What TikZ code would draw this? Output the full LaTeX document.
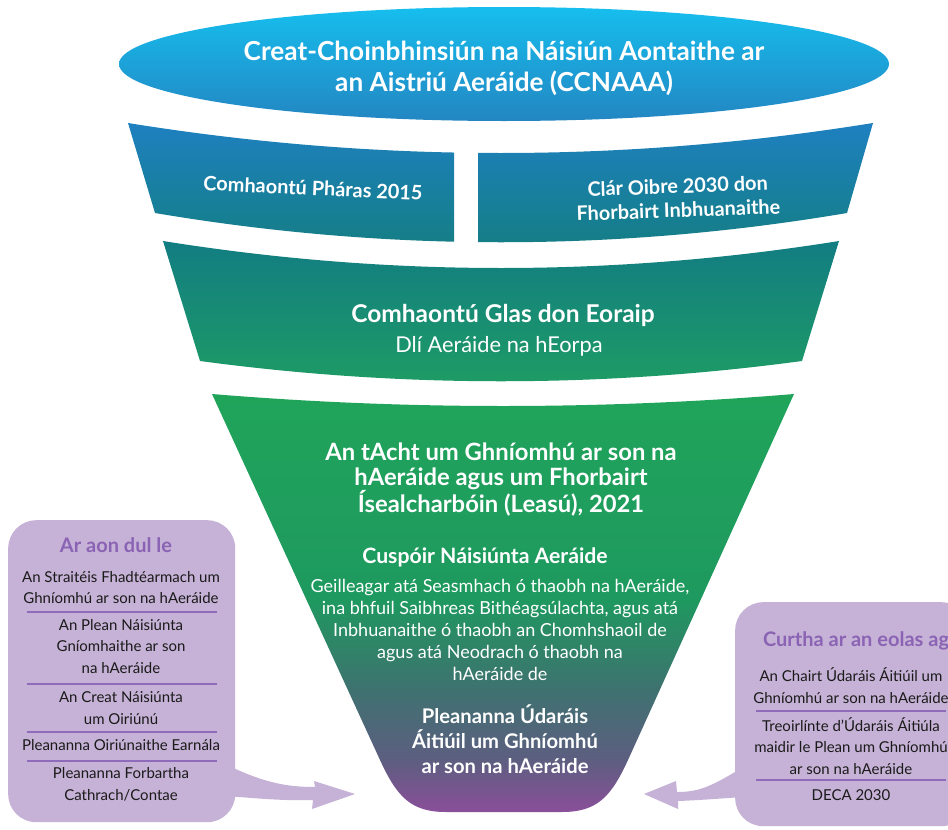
\documentclass[tikz,border=0pt]{standalone}
\usepackage{fontspec}
\setmainfont{Lato}
\definecolor{ellTop}{HTML}{16BEEE}
\definecolor{ellBot}{HTML}{2386C2}
\definecolor{tTwoTop}{HTML}{1E80C0}
\definecolor{tTwoMid}{HTML}{0F69A8}
\definecolor{tTwoBot}{HTML}{147E82}
\definecolor{tThrTop}{HTML}{127D82}
\definecolor{tThrBot}{HTML}{1E9C64}
\definecolor{tfA}{HTML}{20A45A}
\definecolor{tfB}{HTML}{1E995F}
\definecolor{tfC}{HTML}{3F7170}
\definecolor{tfD}{HTML}{5D5E80}
\definecolor{tfE}{HTML}{8A4F9A}
\definecolor{boxc}{HTML}{C6B2D6}
\definecolor{titlec}{HTML}{8A63B4}
\definecolor{sepc}{HTML}{8E6CBB}
\definecolor{inkc}{HTML}{1A1A1A}
\pgfdeclareverticalshading{tierfour}{100bp}{color(0bp)=(tfE); color(25bp)=(tfE); color(31.2bp)=(tfD); color(39.5bp)=(tfC); color(50.5bp)=(tfB); color(75bp)=(tfA); color(100bp)=(tfA)}
\tikzset{
  wtext/.style={text=white, align=center, inner sep=0pt},
  ktext/.style={text=inkc, align=center, inner sep=0pt, font=\fontsize{15}{21.7}\selectfont},
  boxtitle/.style={text=titlec, inner sep=0pt, font=\bfseries\fontsize{20}{22}\selectfont},
  sidebox/.style={fill=boxc, rounded corners=28pt, inner sep=0pt, anchor=north west},
  sepline/.style={draw=sepc, line width=1.4pt},
  arrowc/.style={fill=boxc}
}
\begin{document}
\begin{tikzpicture}[x=1pt,y=-1pt]
\useasboundingbox (0,0) rectangle (948,830);
\clip (0,0) rectangle (948,830);

% top ellipse
\path[top color=ellTop, bottom color=ellBot] (504,64) ellipse [x radius=385, y radius=57];
\node (ccnaaa) [wtext, font=\bfseries\fontsize{26.2}{31}\selectfont] at (504,68)
  {Creat-Choinbhinsiún na Náisiún Aontaithe ar\\an Aistriú Aeráide (CCNAAA)};

% tier 2 (two pieces)
\begin{scope}
\clip (0,100) rectangle (454,260);
\path[top color=tTwoTop, middle color=tTwoMid, bottom color=tTwoBot]
  (128,123) .. controls (376,163) and (625,163) .. (873,123)
  -- (847,213) .. controls (616,252) and (386,252) .. (155,213) -- cycle;
\end{scope}
\begin{scope}
\clip (478,100) rectangle (948,260);
\path[top color=tTwoTop, middle color=tTwoMid, bottom color=tTwoBot]
  (128,123) .. controls (376,163) and (625,163) .. (873,123)
  -- (847,213) .. controls (616,252) and (386,252) .. (155,213) -- cycle;
\end{scope}
\node (paris) [wtext, rotate=-2.6, font=\bfseries\fontsize{19.9}{22}\selectfont] at (313,188)
  {Comhaontú Pháras 2015};
\node (agenda) [wtext, rotate=2, font=\bfseries\fontsize{19.9}{24}\selectfont] at (678,198)
  {Clár Oibre 2030 don\\Fhorbairt Inbhuanaithe};

% tier 3
\path[top color=tThrTop, bottom color=tThrBot]
  (163,241) .. controls (388,277) and (614,277) .. (839,241)
  -- (802,361) .. controls (601,388) and (401,388) .. (200,361) -- cycle;
\node (gdeal) [wtext, font=\bfseries\fontsize{24.5}{28}\selectfont] at (503,315)
  {Comhaontú Glas don Eoraip};
\node (eulaw) [wtext, font=\fontsize{21.8}{25}\selectfont] at (499,346)
  {Dlí Aeráide na hEorpa};

% tier 4
\path[shading=tierfour]
  (212,394) .. controls (405,410) and (601,410) .. (794,394)
  -- (628,760) .. controls (611,797) and (597,812) .. (562,812)
  -- (446,812) .. controls (411,812) and (397,797) .. (380,760) -- cycle;
\node (acht) [wtext, font=\bfseries\fontsize{23.8}{24.5}\selectfont] at (501,480)
  {An tAcht um Ghníomhú ar son na\\hAeráide agus um Fhorbairt\\Ísealcharbóin (Leasú), 2021};
\node (cuspoir) [wtext, font=\bfseries\fontsize{21.2}{24}\selectfont] at (485,557)
  {Cuspóir Náisiúnta Aeráide};
\node (para) [wtext, font=\fontsize{18}{21.8}\selectfont] at (500,630)
  {Geilleagar atá Seasmhach ó thaobh na hAeráide,\\ina bhfuil Saibhreas Bithéagsúlachta, agus atá\\Inbhuanaithe ó thaobh an Chomhshaoil de\\agus atá Neodrach ó thaobh na\\hAeráide de};
\node (lacap) [wtext, font=\bfseries\fontsize{20.2}{25}\selectfont] at (505,739)
  {Pleananna Údaráis\\Áitiúil um Ghníomhú\\ar son na hAeráide};

% arrows
\fill[arrowc] (225,764) .. controls (262,782) and (285,787) .. (315,787)
  -- (314,781) -- (355,794) -- (312,809) -- (313,800)
  .. controls (280,801) and (255,798) .. (225,796) -- cycle;
\fill[arrowc] (745,766) .. controls (712,786) and (700,792) .. (677,792)
  -- (676,781) -- (644,794) -- (678,809) -- (678,801)
  .. controls (705,800) and (725,798) .. (745,797) -- cycle;

% left box
\node (leftbox) [sidebox, minimum width=227pt, minimum height=302pt] at (8,520) {};
\node (ltitle) [boxtitle] at (116,545) {Ar aon dul le};
\node (l1) [ktext] at (121,587.5) {An Straitéis Fhadtéarmach um\\Ghníomhú ar son na hAeráide};
\node (l2) [ktext] at (121,646.5) {An Plean Náisiúnta\\Gníomhaithe ar son\\na hAeráide};
\node (l3) [ktext] at (121,708) {An Creat Náisiúnta\\um Oiriúnú};
\node (l4) [ktext] at (121,745) {Pleananna Oiriúnaithe Earnála};
\node (l5) [ktext] at (121,784) {Pleananna Forbartha\\Cathrach/Contae};
\coordinate (ls1a) at (27,612); \coordinate (ls1b) at (217,612);
\coordinate (ls2a) at (27,684); \coordinate (ls2b) at (217,684);
\coordinate (ls3a) at (27,732); \coordinate (ls3b) at (217,732);
\coordinate (ls4a) at (27,761); \coordinate (ls4b) at (217,761);
\draw[sepline] (ls1a) -- (ls1b);
\draw[sepline] (ls2a) -- (ls2b);
\draw[sepline] (ls3a) -- (ls3b);
\draw[sepline] (ls4a) -- (ls4b);

% right box
\node (rightbox) [sidebox, minimum width=234pt, minimum height=224pt] at (735,602) {};
\node (rtitle) [boxtitle] at (856,641) {Curtha ar an eolas ag};
\node (r1) [ktext] at (851,685.5) {An Chairt Údaráis Áitiúil um\\Ghníomhú ar son na hAeráide};
\node (r2) [ktext] at (851,746) {Treoirlínte d’Údaráis Áitiúla\\maidir le Plean um Ghníomhú\\ar son na hAeráide};
\node (r3) [ktext] at (851,795) {DECA 2030};
\coordinate (rs1a) at (756,711); \coordinate (rs1b) at (946,711);
\coordinate (rs2a) at (756,780); \coordinate (rs2b) at (946,780);
\draw[sepline] (rs1a) -- (rs1b);
\draw[sepline] (rs2a) -- (rs2b);
\end{tikzpicture}
\end{document}
